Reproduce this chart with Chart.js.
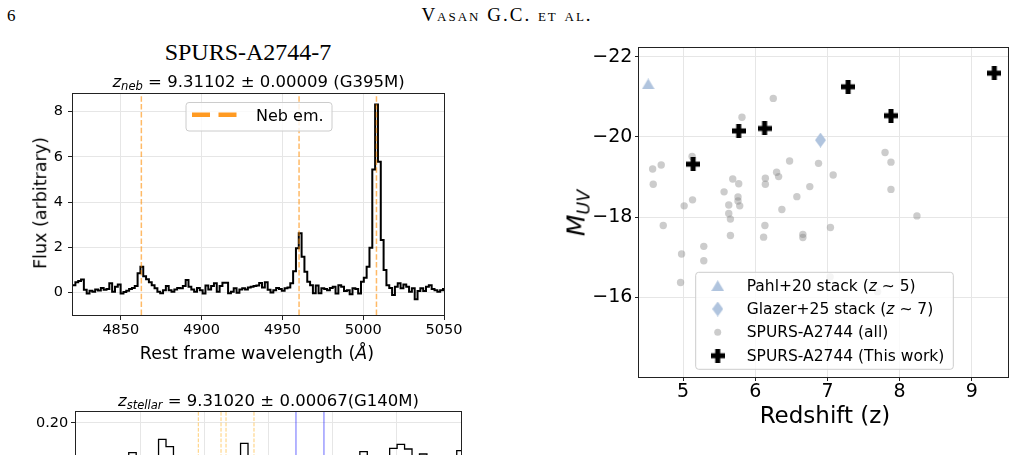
<!DOCTYPE html>
<html><head><meta charset="utf-8">
<script src="https://cdn.jsdelivr.net/npm/chart.js@4.4.1/dist/chart.umd.min.js"></script>
<style>
html,body{margin:0;padding:0;width:1016px;height:455px;overflow:hidden;background:#fff;}
body{position:relative;font-family:'DejaVu Sans',sans-serif;}
canvas{position:absolute;}
.t{position:absolute;white-space:nowrap;color:#000;line-height:1;}
.sub{font-size:70%;font-style:italic;position:relative;top:0.3em;}
</style></head><body>
<canvas id="c1" width="480" height="290" style="left:0;top:80px;width:480px;height:290px"></canvas>
<canvas id="c2" width="490" height="300" style="left:0;top:395px;width:490px;height:300px"></canvas>
<canvas id="c3" width="456" height="425" style="left:560px;top:30px;width:456px;height:425px"></canvas>

<div class="t" style="left:7px;top:6px;font:17px 'Liberation Serif',serif;">6</div>
<div class="t" style="left:507px;top:4px;transform:translateX(-50%);font:19px 'Liberation Serif',serif;font-variant:small-caps;letter-spacing:2px;">Vasan G.C. et al.</div>
<div class="t" style="left:248px;top:39px;transform:translateX(-50%);font:24px 'Liberation Serif',serif;">SPURS-A2744-7</div>
<div class="t" style="left:258.5px;top:73.5px;transform:translateX(-50%);font-size:16.5px;"><i>z</i><span class="sub">neb</span> = 9.31102 ± 0.00009 (G395M)</div>
<div class="t" style="left:41px;top:203px;transform:translate(-50%,-50%) rotate(-90deg);font-size:17.5px;">Flux (arbitrary)</div>
<div class="t" style="left:257px;top:354px;transform:translate(-50%,-50%);font-size:17.5px;">Rest frame wavelength (<i>Å</i>)</div>
<div class="t" style="left:268.5px;top:392.7px;transform:translateX(-50%);font-size:16.5px;"><i>z</i><span class="sub">stellar</span> = 9.31020 ± 0.00067(G140M)</div>
<div class="t" style="left:576px;top:213px;transform:translate(-50%,-50%) rotate(-90deg);font-size:25px;"><i>M</i><span class="sub">UV</span></div>
<div class="t" style="left:825px;top:415px;transform:translate(-50%,-50%);font-size:23px;">Redshift (z)</div>

<script>
// ---------- DATA: top-left spectrum (G395M) ----------
const specWave = [4819.25,4821.00,4822.75,4824.50,4826.25,4828.00,4829.75,4831.50,4833.25,4835.00,4836.75,4838.50,4840.25,4842.00,4843.75,4845.50,4847.25,4849.00,4850.75,4852.50,4854.25,4856.00,4857.75,4859.50,4861.25,4863.00,4864.75,4866.50,4868.25,4870.00,4871.75,4873.50,4875.25,4877.00,4878.75,4880.50,4882.25,4884.00,4885.75,4887.50,4889.25,4891.00,4892.75,4894.50,4896.25,4898.00,4899.75,4901.50,4903.25,4905.00,4906.75,4908.50,4910.25,4912.00,4913.75,4915.50,4917.25,4919.00,4920.75,4922.50,4924.25,4926.00,4927.75,4929.50,4931.25,4933.00,4934.75,4936.50,4938.25,4940.00,4941.75,4943.50,4945.25,4947.00,4948.75,4950.50,4952.25,4954.00,4955.75,4957.50,4959.25,4961.00,4962.75,4964.50,4966.25,4968.00,4969.75,4971.50,4973.25,4975.00,4976.75,4978.50,4980.25,4982.00,4983.75,4985.50,4987.25,4989.00,4990.75,4992.50,4994.25,4996.00,4997.75,4999.50,5001.25,5003.00,5004.75,5006.50,5008.25,5010.00,5011.75,5013.50,5015.25,5017.00,5018.75,5020.50,5022.25,5024.00,5025.75,5027.50,5029.25,5031.00,5032.75,5034.50,5036.25,5038.00,5039.75,5041.50,5043.25,5045.00,5046.75,5048.50,5050.25];
const specFlux = [0.32,0.32,0.45,0.50,0.57,0.12,-0.05,0.07,0.03,0.13,0.08,0.20,0.12,0.15,0.40,0.03,0.25,0.35,-0.05,0.02,0.07,0.15,0.20,0.28,0.85,1.14,0.72,0.58,0.45,0.32,0.18,0.03,-0.04,0.10,0.28,0.10,0.03,0.13,0.20,0.18,0.28,0.55,0.25,0.13,0.03,0.20,0.10,-0.05,0.30,0.13,0.28,0.40,0.03,0.28,0.43,0.43,-0.04,0.03,0.18,-0.02,0.13,0.18,0.13,0.22,0.25,0.28,0.30,0.42,0.22,0.45,0.12,0.00,0.10,0.20,0.15,0.07,0.18,0.22,0.40,0.94,1.95,2.62,1.58,0.91,0.47,0.32,-0.04,0.30,-0.04,0.18,0.15,0.10,0.20,0.25,-0.05,0.32,0.25,0.06,0.10,-0.08,0.18,0.15,-0.05,0.47,0.65,1.14,1.98,5.44,8.32,5.78,2.32,0.99,0.32,0.20,-0.12,0.25,0.40,0.18,0.35,0.25,0.03,0.18,-0.30,0.06,0.18,0.06,0.25,0.32,0.15,0.10,0.03,0.10,0.15];
const nebLines = [4862.7, 4960.3, 5008.2];
const specXTicks = [4850, 4900, 4950, 5000, 5050];
const specYTicks = [0, 2, 4, 6, 8];
const specXRange = [4820.4, 5050];
const specYRange = [-1.0, 8.78];

// ---------- DATA: bottom-left spectrum (G140M), partly visible ----------
const stelWave = [1453.33,1459.14,1464.95,1470.76,1476.57,1482.38,1488.19,1494.00,1499.81,1505.62,1511.42,1517.23,1523.04,1528.85,1534.66,1540.47,1546.28,1552.09,1557.90,1563.71,1569.51,1575.32,1581.13,1586.94,1592.75,1598.56,1604.37,1610.18,1615.99,1621.80,1627.60,1633.41,1639.22,1645.03,1650.84,1656.65,1662.46,1668.27,1674.08,1679.89,1685.69,1691.50,1697.31,1703.12,1708.93,1714.74,1720.55,1726.36,1732.17,1737.98,1743.78,1749.59,1755.40];
const stelFlux = [0.08,0.11,0.05,0.13,0.09,0.12,0.07,0.1703,0.10,0.04,0.12,0.1837,0.1763,0.09,0.13,0.06,0.11,0.03,0.12,0.08,0.14,0.10,0.1797,0.12,0.05,0.13,0.09,0.02,0.11,0.07,0.12,0.14,0.06,0.10,0.13,0.08,0.11,0.14,0.1713,0.12,0.09,0.13,0.1747,0.1787,0.1740,0.14,0.1690,0.11,0.13,0.08,0.12,0.1723,0.1723];
const stelOrangeLines = [1545.3, 1563.0, 1566.9, 1588.7];
const stelBlueLines = [1621.4, 1643.2];
const stelXTicks = [1500, 1550, 1600, 1650, 1700];
const stelYTicks = [0.20, 0.15, 0.10, 0.05, 0.00];
const stelXRange = [1450, 1750];
const stelYRange = [-0.01, 0.211];

// ---------- DATA: right panel M_UV vs redshift ----------
const allZ = [4.577,4.696,4.585,5.124,5.130,5.014,4.724,5.815,6.249,5.567,5.687,5.770,5.760,5.760,5.632,5.784,5.632,5.655,6.139,6.139,6.295,6.323,6.475,6.368,6.576,6.755,6.876,7.079,7.798,7.880,7.880,8.240,6.133,7.041,5.655,6.115,6.659,6.659,5.286,4.978,5.286,4.964,7.037,7.695];
const allM = [-19.20,-19.30,-18.82,-19.51,-18.43,-18.28,-17.79,-20.49,-20.96,-18.63,-18.95,-18.83,-18.50,-18.40,-18.30,-18.28,-18.09,-17.95,-18.97,-18.82,-19.12,-19.01,-19.40,-18.19,-18.51,-18.76,-19.34,-19.05,-19.61,-19.37,-18.69,-18.03,-17.79,-17.74,-17.54,-17.50,-17.57,-17.49,-17.27,-17.08,-16.91,-16.37,-16.51,-16.14];
const workZ = [5.138, 5.770, 6.129, 7.286, 7.880, 9.312];
const workM = [-19.32, -20.15, -20.21, -21.25, -20.53, -21.59];
const pahlZ = [4.516];
const pahlM = [-21.32];
const glazerZ = [6.903];
const glazerM = [-19.92];
const muvXTicks = [5, 6, 7, 8, 9];
const muvYTicks = [-22, -20, -18, -16];
const muvXRange = [4.388, 9.502];
const muvYRange = [-22.217, -14.012];

const muvLegend = [
  {marker: 'tri',  parts: [['Pahl+20 stack (', ''], ['z', 'italic'], [' \u223C 5)', '']]},
  {marker: 'dia',  parts: [['Glazer+25 stack (', ''], ['z', 'italic'], [' \u223C 7)', '']]},
  {marker: 'dot',  parts: [['SPURS-A2744 (all)', '']]},
  {marker: 'plus', parts: [['SPURS-A2744 (This work)', '']]}
];

// ---------- helpers ----------
Chart.defaults.font.family = "'DejaVu Sans', sans-serif";
Chart.defaults.color = '#000';
const FAM = "'DejaVu Sans', sans-serif";
const minus = v => (v < 0 ? '\u2212' : '') + Math.abs(v);

function mkScale(o) {
  return {
    type: 'linear', min: o.range[0], max: o.range[1], reverse: !!o.reverse,
    afterBuildTicks: s => { s.ticks = o.ticks.map(v => ({value: v})); },
    afterFit: s => { if (o.w != null) s.width = o.w; if (o.h != null) s.height = o.h; },
    grid: {color: '#e6e6e6', lineWidth: 1, drawTicks: true, tickLength: o.tl, tickColor: '#222', tickWidth: 1},
    border: {display: false},
    ticks: {color: '#000', font: {size: o.fs}, padding: o.pad, autoSkip: false, maxRotation: 0, minRotation: 0, includeBounds: false, callback: o.fmt}
  };
}
const framePlugin = {
  id: 'frame',
  afterDatasetsDraw(c) {
    const {ctx, chartArea: a} = c;
    ctx.save(); ctx.strokeStyle = '#222'; ctx.lineWidth = 1;
    ctx.strokeRect(Math.round(a.left) - 0.5, Math.round(a.top) - 0.5, Math.round(a.right - a.left) + 1, Math.round(a.bottom - a.top) + 1);
    ctx.restore();
  }
};
function legendBox(ctx, x, y, w, h) {
  const r = 3;
  ctx.beginPath();
  ctx.moveTo(x + r, y); ctx.lineTo(x + w - r, y); ctx.quadraticCurveTo(x + w, y, x + w, y + r);
  ctx.lineTo(x + w, y + h - r); ctx.quadraticCurveTo(x + w, y + h, x + w - r, y + h);
  ctx.lineTo(x + r, y + h); ctx.quadraticCurveTo(x, y + h, x, y + h - r);
  ctx.lineTo(x, y + r); ctx.quadraticCurveTo(x, y, x + r, y); ctx.closePath();
  ctx.fillStyle = 'rgba(255,255,255,0.8)'; ctx.fill();
  ctx.strokeStyle = '#cccccc'; ctx.lineWidth = 1; ctx.stroke();
}
function makeMarker(w, h, draw) {
  const c = document.createElement('canvas'); c.width = w; c.height = h;
  draw(c.getContext('2d'), w, h); return c;
}
const STEEL = '#b0c4de';
const triImg = makeMarker(13, 11, (g, w, h) => { g.fillStyle = STEEL; g.beginPath(); g.moveTo(w / 2, 0); g.lineTo(w, h); g.lineTo(0, h); g.closePath(); g.fill(); });
const diaImg = makeMarker(11, 15, (g, w, h) => { g.fillStyle = STEEL; g.beginPath(); g.moveTo(w / 2, 0); g.lineTo(w, h / 2); g.lineTo(w / 2, h); g.lineTo(0, h / 2); g.closePath(); g.fill(); });
const plusImg = makeMarker(14, 14, (g, w, h) => { g.fillStyle = '#000'; g.fillRect(0, 4.5, 14, 5); g.fillRect(4.5, 0, 5, 14); });
const GREY = 'rgba(128,128,128,0.4)';

// ---------- Chart 1: nebular spectrum ----------
const nebLegend = {
  id: 'nebLegend',
  afterDraw(c) {
    const ctx = c.ctx; ctx.save();
    legendBox(ctx, 186, 22.5, 146, 28.5);
    ctx.strokeStyle = '#ff9a22'; ctx.lineWidth = 4.6; ctx.setLineDash([18, 8.5]);
    ctx.beginPath(); ctx.moveTo(192, 34.7); ctx.lineTo(238, 34.7); ctx.stroke();
    ctx.setLineDash([]);
    ctx.fillStyle = '#000'; ctx.font = '16px ' + FAM; ctx.textBaseline = 'middle';
    ctx.fillText('Neb em.', 256, 36.5);
    ctx.restore();
  }
};
new Chart(document.getElementById('c1'), {
  type: 'line',
  data: {
    datasets: [
      {data: specWave.map((x, i) => ({x, y: specFlux[i]})), stepped: 'middle', borderColor: '#000', borderWidth: 2, pointRadius: 0, fill: false, order: 1},
      ...nebLines.map(w => ({data: [{x: w, y: specYRange[0]}, {x: w, y: specYRange[1]}], borderColor: 'rgba(255,140,0,0.6)', borderWidth: 1.5, borderDash: [5.5, 2.4], pointRadius: 0, fill: false, order: 0}))
    ]
  },
  options: {
    responsive: false, animation: false, events: [],
    layout: {padding: {left: 0, top: 14, right: 36, bottom: 0}},
    plugins: {legend: {display: false}, tooltip: {enabled: false}},
    scales: {
      x: mkScale({range: specXRange, ticks: specXTicks, h: 55, tl: 5, pad: 1.5, fs: 14.5, fmt: v => String(v)}),
      y: mkScale({range: specYRange, ticks: specYTicks, w: 73, tl: 5, pad: 5, fs: 14.5, fmt: v => String(v)})
    }
  },
  plugins: [framePlugin, nebLegend]
});

// ---------- Chart 2: stellar spectrum (cut by page edge) ----------
new Chart(document.getElementById('c2'), {
  type: 'line',
  data: {
    datasets: [
      {data: stelWave.map((x, i) => ({x, y: stelFlux[i]})), stepped: 'middle', borderColor: '#000', borderWidth: 1.3, pointRadius: 0, fill: false, order: 1},
      ...stelOrangeLines.map(w => ({data: [{x: w, y: stelYRange[0]}, {x: w, y: stelYRange[1]}], borderColor: 'rgba(255,165,0,0.55)', borderWidth: 1, borderDash: [3.7, 1.6], pointRadius: 0, fill: false, order: 0})),
      ...stelBlueLines.map(w => ({data: [{x: w, y: stelYRange[0]}, {x: w, y: stelYRange[1]}], borderColor: 'rgba(0,0,255,0.45)', borderWidth: 1.3, pointRadius: 0, fill: false, order: 0}))
    ]
  },
  options: {
    responsive: false, animation: false, events: [],
    layout: {padding: {left: 0, top: 17, right: 29, bottom: 0}},
    plugins: {legend: {display: false}, tooltip: {enabled: false}},
    scales: {
      x: mkScale({range: stelXRange, ticks: stelXTicks, h: 62, tl: 5, pad: 2, fs: 14.5, fmt: v => String(v)}),
      y: mkScale({range: stelYRange, ticks: stelYTicks, w: 76, tl: 5, pad: 2.7, fs: 14.5, fmt: v => (v < 0 ? '\u2212' : '') + Math.abs(v).toFixed(2)})
    }
  },
  plugins: [framePlugin]
});

// ---------- Chart 3: M_UV vs redshift ----------
const muvLegendPlugin = {
  id: 'muvLegend',
  afterDraw(c) {
    const ctx = c.ctx; ctx.save();
    legendBox(ctx, 135.7, 242.3, 257.6, 97);
    const rows = [255.7, 279, 302.3, 325.7];
    const mx = 157.7, tx = 186.7;
    muvLegend.forEach((item, i) => {
      const y = rows[i];
      if (item.marker === 'tri') ctx.drawImage(triImg, mx - triImg.width / 2, y - triImg.height / 2);
      else if (item.marker === 'dia') ctx.drawImage(diaImg, mx - diaImg.width / 2, y - diaImg.height / 2);
      else if (item.marker === 'plus') ctx.drawImage(plusImg, mx - plusImg.width / 2, y - plusImg.height / 2);
      else { ctx.fillStyle = GREY; ctx.beginPath(); ctx.arc(mx, y, 3.5, 0, Math.PI * 2); ctx.fill(); }
      let cx = tx;
      ctx.fillStyle = '#000'; ctx.textBaseline = 'middle';
      item.parts.forEach(([txt, st]) => {
        ctx.font = (st ? st + ' ' : '') + '15.5px ' + FAM;
        ctx.fillText(txt, cx, y + 1);
        cx += ctx.measureText(txt).width;
      });
    });
    ctx.restore();
  }
};
new Chart(document.getElementById('c3'), {
  type: 'scatter',
  data: {
    datasets: [
      {label: 'SPURS-A2744 (This work)', data: workZ.map((x, i) => ({x, y: workM[i]})), pointStyle: plusImg, pointRadius: 7, order: 0},
      {label: 'Pahl+20 stack', data: pahlZ.map((x, i) => ({x, y: pahlM[i]})), pointStyle: triImg, pointRadius: 6, order: 1},
      {label: 'Glazer+25 stack', data: glazerZ.map((x, i) => ({x, y: glazerM[i]})), pointStyle: diaImg, pointRadius: 6, order: 1},
      {label: 'SPURS-A2744 (all)', data: allZ.map((x, i) => ({x, y: allM[i]})), pointStyle: 'circle', pointRadius: 3.7, backgroundColor: GREY, borderWidth: 0, order: 2}
    ]
  },
  options: {
    responsive: false, animation: false, events: [],
    layout: {padding: {left: 0, top: 18, right: 7, bottom: 0}},
    plugins: {legend: {display: false}, tooltip: {enabled: false}},
    scales: {
      x: mkScale({range: muvXRange, ticks: muvXTicks, h: 78, tl: 4, pad: 0, fs: 19, fmt: v => String(v)}),
      y: mkScale({range: muvYRange, ticks: muvYTicks, reverse: true, w: 79, tl: 4, pad: 2.6, fs: 19, fmt: minus})
    }
  },
  plugins: [framePlugin, muvLegendPlugin]
});
</script>
</body></html>
